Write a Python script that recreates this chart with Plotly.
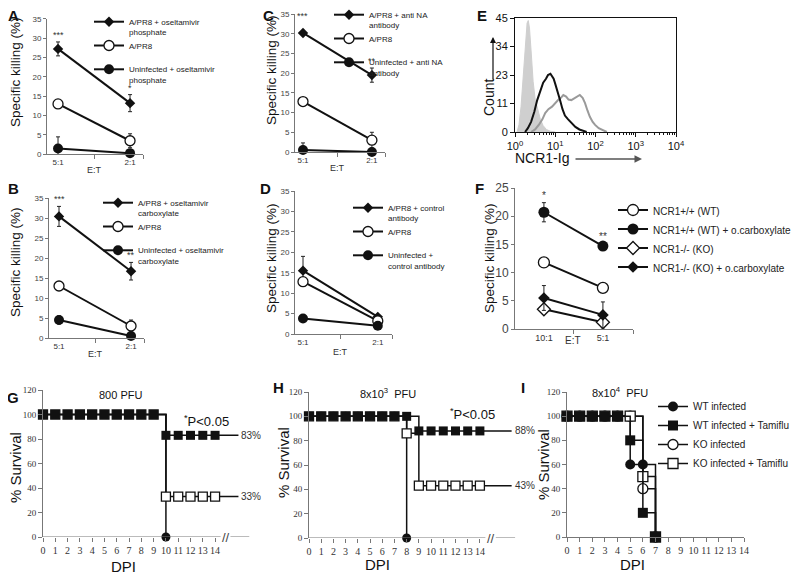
import math
import plotly.graph_objects as go

# page body keeps an 8px margin, so the figure is drawn 8px in from the window edge
OFF = 8
W, H = 800 - OFF, 575 - OFF

# ---------------- killing assays (A-D) ----------------
ET = ["5:1", "2:1"]

A_NAMES = ["A/PR8 + oseltamivir<br>phosphate", "A/PR8<br> ", "Uninfected + oseltamivir<br>phosphate"]
A_VALS = [[27.2, 13.2], [13.0, 3.5], [1.5, 0.3]]
A_ERR = [[1.8, 2.2], [0.8, 1.8], [3.0, 0.3]]
A_STARS = ["***", "*"]

B_NAMES = ["A/PR8 + oseltamivir<br>carboxylate", "A/PR8<br> ", "Uninfected + oseltamivir<br>carboxylate"]
B_VALS = [[30.4, 16.7], [13.0, 3.0], [4.5, 0.5]]
B_ERR = [[2.5, 2.2], [0.6, 1.5], [1.0, 0.3]]
B_STARS = ["***", "**"]

C_NAMES = ["A/PR8 + anti NA<br>antibody", "A/PR8<br> ", "Uninfected + anti NA<br>antibody"]
C_VALS = [[30.2, 19.5], [12.8, 3.0], [0.5, 0.0]]
C_ERR = [[0.5, 1.8], [1.0, 2.0], [1.8, 0.2]]
C_STARS = ["***", "**"]

D_NAMES = ["A/PR8 + control<br>antibody", "A/PR8<br> ", "Uninfected +<br>control antibody"]
D_VALS = [[15.5, 4.2], [12.8, 3.2], [3.8, 2.0]]
D_ERR = [[3.5, 0.5], [1.0, 0.8], [0.5, 0.3]]
D_STARS = ["", ""]

# ---------------- NCR1-Ig histogram (E), x in log10 units ----------------
E_FILL_X = [0.05, 0.1, 0.15, 0.2, 0.25, 0.3, 0.33, 0.36, 0.4, 0.45, 0.5, 0.57, 0.63, 0.7, 0.78, 0.88, 1.0]
E_FILL_Y = [0, 3, 10, 22, 35, 43, 44, 41, 32, 20, 13, 8, 5, 2.5, 1, 0.3, 0]
E_BLACK_X = [0.25, 0.32, 0.4, 0.48, 0.55, 0.62, 0.7, 0.77, 0.82, 0.88, 0.92, 0.96, 1.0, 1.06,
             1.12, 1.18, 1.24, 1.32, 1.41, 1.5, 1.6, 1.7, 1.78]
E_BLACK_Y = [0, 1.5, 4, 8, 12.5, 16, 19.5, 21, 22.5, 23, 22, 21, 19, 16, 12.5, 9, 6.5, 5, 3.5, 2, 1, 0.5, 0]
E_GRAY_X = [0.4, 0.5, 0.6, 0.68, 0.75, 0.83, 0.92, 1.0, 1.07, 1.14, 1.2, 1.27, 1.33, 1.4, 1.49,
            1.55, 1.61, 1.68, 1.74, 1.8, 1.86, 1.93, 1.99, 2.08, 2.16, 2.28]
E_GRAY_Y = [0, 1, 3, 5, 7.5, 9, 10, 11.5, 12.6, 13.5, 14.6, 14, 12.8, 12.6, 13.4, 14, 14.6, 13.5,
            11.4, 8.5, 6, 4, 2.8, 1.5, 0.8, 0]
E_YTICKS = ["0", "11", "23", "34", "45"]

# ---------------- NCR1 WT / KO killing (F) ----------------
F_ET = ["10:1", "5:1"]
F_NAMES = ["NCR1+/+ (WT)", "NCR1+/+ (WT) + o.carboxylate", "NCR1-/- (KO)", "NCR1-/- (KO) + o.carboxylate"]
F_VALS = [[11.8, 7.3], [20.7, 14.7], [3.5, 1.2], [5.5, 2.5]]
F_ERR = [[0.7, 0.6], [1.7, 0.3], [0.5, 0.5], [2.2, 2.3]]
F_STARS = ["*", "**"]

# ---------------- survival (G-I) ----------------
G_DAYS = [0, 1, 2, 3, 4, 5, 6, 7, 8, 9, 10, 11, 12, 13, 14]
G_WT_INF = [100, 100, 100, 100, 100, 100, 100, 100, 100, 100, 0]
G_WT_TAM = [100, 100, 100, 100, 100, 100, 100, 100, 100, 100, 83, 83, 83, 83, 83]
G_KO_TAM = [100, 100, 100, 100, 100, 100, 100, 100, 100, 100, 33, 33, 33, 33, 33]

H_DAYS = [0, 1, 2, 3, 4, 5, 6, 7, 8, 9, 10, 11, 12, 13, 14]
H_WT_INF = [100, 100, 100, 100, 100, 100, 100, 100, 0]
H_WT_TAM = [100, 100, 100, 100, 100, 100, 100, 100, 100, 88, 88, 88, 88, 88, 88]
H_KO_TAM = [100, 100, 100, 100, 100, 100, 100, 100, 86, 43, 43, 43, 43, 43, 43]

I_DAYS = [0, 1, 2, 3, 4, 5, 6, 7]
I_WT_INF = [100, 100, 100, 100, 100, 60, 60, 0]
I_WT_TAM = [100, 100, 100, 100, 100, 80, 20, 0]
I_KO_INF = [100, 100, 100, 100, 100, 100, 40, 0]
I_KO_TAM = [100, 100, 100, 100, 100, 100, 50, 0]
SURV_NAMES = ["WT infected", "WT infected + Tamiflu", "KO infected", "KO infected + Tamiflu"]

INK = "#111111"
AXC = "#777777"
SANS = "Liberation Sans, Arial, sans-serif"
SERIF = "Liberation Serif, Times New Roman, serif"

fig = go.Figure()
layout = dict(width=W, height=H, margin=dict(l=0, r=0, t=0, b=0, autoexpand=False),
              paper_bgcolor="white", plot_bgcolor="white",
              font=dict(family=SANS, color=INK), showlegend=True)
annotations = []
shapes = []


def ids(k):
    return ("x", "y") if k == 1 else (f"x{k}", f"y{k}")


def keys(k):
    return ("xaxis", "yaxis") if k == 1 else (f"xaxis{k}", f"yaxis{k}")


# screen pixel -> paper fraction
def fx(p):
    return (p - OFF) / W


def fy(p):
    return 1 - (p - OFF) / H


def dx(a, b):
    return [fx(a), fx(b)]


def dy(top, bottom):
    return [fy(bottom), fy(top)]


def label(x, y, text, size, angle=0, bold=False, family=SANS, color=INK):
    t = f"<b>{text}</b>" if bold else text
    annotations.append(dict(x=fx(x), y=fy(y), xref="paper", yref="paper", text=t,
                            showarrow=False, textangle=angle, xanchor="center", yanchor="middle",
                            font=dict(size=size, family=family, color=color)))


def legend_at(name, left, top, size, valign="top"):
    layout[name] = dict(x=fx(left), y=fy(top), xanchor="left", yanchor="top",
                        font=dict(size=size, color="#222"), bgcolor="rgba(0,0,0,0)",
                        valign=valign, tracegroupgap=0)


def mk(symbol, s, filled):
    return dict(symbol=symbol, size=s, opacity=1, color=INK if filled else "white",
                line=dict(color=INK, width=0 if filled else 1.3))


KILL_STYLE = [mk("diamond", 8, True), mk("circle", 10, False), mk("circle", 10, True)]
F_STYLE = [mk("circle", 11, False), mk("circle", 11, True), mk("diamond", 10, False), mk("diamond", 9, True)]


def kill_panel(k, box, labels, names, vals, errs, stars, styles, legend_id, leg_xy, leg_font,
               ymax=35, ytick_size=8, xtick_size=8, star_row=0, star_lift=(0, 0), et_y=None):
    x0, x1, ytop, ybot, r0, r1 = box
    xa, ya = ids(k)
    xk, yk = keys(k)
    pos = list(range(len(labels)))
    for name, v, e, st in zip(names, vals, errs, styles):
        fig.add_trace(go.Scatter(x=pos, y=v, name=name, mode="lines+markers", xaxis=xa, yaxis=ya,
                                 legend=legend_id, line=dict(color=INK, width=2), marker=st,
                                 error_y=dict(type="data", array=e, color="#222", thickness=1, width=2),
                                 cliponaxis=False))
    for j, s in enumerate(stars):
        if s:
            annotations.append(dict(x=pos[j], y=vals[star_row][j] + errs[star_row][j], xref=xa, yref=ya,
                                    text=s, showarrow=False, xanchor="center", yanchor="bottom",
                                    yshift=star_lift[j], font=dict(size=xtick_size + 1, color="#333")))
    layout[xk] = dict(domain=dx(x0, x1), range=[r0, r1], anchor=ya, tickmode="array",
                      tickvals=pos, ticktext=labels, ticks="", showline=True, linecolor=AXC,
                      showgrid=False, zeroline=False, tickfont=dict(size=xtick_size, color="#333"),
                      minor=dict(tickmode="array", tickvals=[0.5, r1], ticks="outside",
                                 ticklen=4, tickcolor=AXC))
    layout[yk] = dict(domain=dy(ytop, ybot), range=[0, ymax], anchor=xa, dtick=5, ticks="outside",
                      ticklen=3, tickcolor=AXC, showline=True, linecolor=AXC, showgrid=False,
                      zeroline=False, tickfont=dict(size=ytick_size, color="#444"))
    annotations.append(dict(x=0.5, y=fy(et_y), xref=xa, yref="paper", text="E:T", showarrow=False,
                            xanchor="center", yanchor="middle",
                            font=dict(size=xtick_size + 1, color="#333")))
    legend_at(legend_id, leg_xy[0], leg_xy[1], leg_font)


kill_panel(1, (47, 143, 18.7, 154.3, -0.153, 1.18), ET, A_NAMES, A_VALS, A_ERR, A_STARS,
           KILL_STYLE, "legend", (89, 10), 8, et_y=170)
kill_panel(2, (49, 144, 198, 338, -0.139, 1.18), ET, B_NAMES, B_VALS, B_ERR, B_STARS,
           KILL_STYLE, "legend2", (98, 191), 8, et_y=354)
kill_panel(3, (295, 385, 14, 152, -0.116, 1.19), ET, C_NAMES, C_VALS, C_ERR, C_STARS,
           KILL_STYLE, "legend3", (329, 3), 8, star_lift=(8, 0), et_y=168)
kill_panel(4, (295, 392, 191, 334, -0.107, 1.19), ET, D_NAMES, D_VALS, D_ERR, D_STARS,
           KILL_STYLE, "legend4", (348, 196), 8, et_y=352)
kill_panel(6, (515, 633, 188, 329, -0.49, 1.51), F_ET, F_NAMES, F_VALS, F_ERR, F_STARS,
           F_STYLE, "legend5", (613, 197), 10, ymax=25, ytick_size=12, xtick_size=9, star_row=1,
           et_y=340)

# ---------------- panel E ----------------
fig.add_trace(go.Scatter(x=E_FILL_X, y=E_FILL_Y, mode="lines", fill="tozeroy", fillcolor="#cfcfcf",
                         line=dict(color="#cfcfcf", width=1), xaxis="x5", yaxis="y5", showlegend=False))
fig.add_trace(go.Scatter(x=E_GRAY_X, y=E_GRAY_Y, mode="lines", line=dict(color="#9a9a9a", width=2),
                         xaxis="x5", yaxis="y5", showlegend=False))
fig.add_trace(go.Scatter(x=E_BLACK_X, y=E_BLACK_Y, mode="lines", line=dict(color=INK, width=2),
                         xaxis="x5", yaxis="y5", showlegend=False))
e_minor = [d + math.log10(m) for d in range(4) for m in range(2, 10)]
layout["xaxis5"] = dict(domain=dx(515, 676), range=[0, 4], anchor="y5", tickmode="array",
                        tickvals=[0, 1, 2, 3, 4],
                        ticktext=[f"10<sup>{p}</sup>" for p in range(5)],
                        ticks="outside", ticklen=4, tickcolor=INK, showline=True, mirror=True,
                        linecolor=INK, showgrid=False, zeroline=False, tickfont=dict(size=11),
                        minor=dict(tickmode="array", tickvals=e_minor, ticks="outside", ticklen=2,
                                   tickcolor=INK))
layout["yaxis5"] = dict(domain=dy(18, 132), range=[0, 45], anchor="x5", tickmode="array",
                        tickvals=[0, 11.25, 22.5, 33.75, 45], ticktext=E_YTICKS, ticks="outside",
                        ticklen=4, tickcolor=INK, showline=True, mirror=True, linecolor=INK,
                        showgrid=False, zeroline=False, tickfont=dict(size=11))
label(542, 158, "NCR1-Ig", 14)
annotations.append(dict(x=fx(642), y=fy(159), xref="paper", yref="paper", ax=-68, ay=0, text="",
                        showarrow=True, arrowhead=2, arrowsize=1, arrowwidth=1.5, arrowcolor="#555"))
label(489, 98, "Count", 14, angle=-90)
annotations.append(dict(x=fx(493), y=fy(37), xref="paper", yref="paper", ax=0, ay=44, text="",
                        showarrow=True, arrowhead=2, arrowsize=1, arrowwidth=1.2, arrowcolor=INK))


# ---------------- survival panels ----------------
def surv_axes(k, x0, x1, ytop, ybot, xmax, axis_line=True):
    xa, ya = ids(k)
    xk, yk = keys(k)
    layout[xk] = dict(domain=dx(x0, x1), range=[0, xmax], anchor=ya, tickmode="array",
                      tickvals=G_DAYS, ticks="outside", ticklen=4, tickcolor=AXC,
                      showline=axis_line, linecolor=AXC, showgrid=False, zeroline=False,
                      tickfont=dict(size=10, family=SERIF, color="#333"))
    layout[yk] = dict(domain=dy(ytop, ybot), range=[0, 120], anchor=xa, dtick=20, ticks="outside",
                      ticklen=4, tickcolor=AXC, showline=True, linecolor=AXC, showgrid=False,
                      zeroline=False, tickfont=dict(size=9, family=SERIF, color="#333"))


def surv_trace(k, days, vals, marker, name, legend_id=None, tail=None, rank=1000):
    xa, ya = ids(k)
    x = days[:len(vals)]
    y = list(vals)
    sizes = [marker["size"]] * len(y)
    if tail is not None:
        x = x + [tail]
        y = y + [vals[-1]]
        sizes = sizes + [0]
    m = dict(marker)
    m["size"] = sizes
    fig.add_trace(go.Scatter(x=x, y=y, mode="lines+markers", line=dict(color=INK, width=1.5, shape="hv"),
                             marker=m, name=name, xaxis=xa, yaxis=ya, cliponaxis=False,
                             showlegend=legend_id is not None, legend=legend_id or "legend",
                             legendrank=rank))


def axis_break(k, xmax, b0, b1):
    xa, ya = ids(k)
    shapes.append(dict(type="line", xref=xa, yref=ya, x0=0, x1=b0, y0=0, y1=0, line=dict(color=AXC, width=1)))
    shapes.append(dict(type="line", xref=xa, yref=ya, x0=b1, x1=xmax, y0=0, y1=0, line=dict(color=AXC, width=1)))
    annotations.append(dict(x=(b0 + b1) / 2, y=0, xref=xa, yref=ya, text="//", showarrow=False,
                            xanchor="center", yanchor="middle", font=dict(size=13, color="#444")))


def pct(k, x, v):
    xa, ya = ids(k)
    annotations.append(dict(x=x, y=v, xref=xa, yref=ya, text=f"{v}%", showarrow=False, xanchor="left",
                            yanchor="middle", xshift=1, font=dict(size=10, color="#333")))


# G
G_TAIL = 15.9
surv_axes(7, 43, 249.5, 390, 537, 16.8, axis_line=False)
axis_break(7, 16.8, 14.45, 15.25)
surv_trace(7, G_DAYS, G_WT_INF, mk("circle", 9, True), SURV_NAMES[0])
surv_trace(7, G_DAYS, G_KO_TAM, mk("square", 9, False), SURV_NAMES[3], tail=G_TAIL)
surv_trace(7, G_DAYS, G_WT_TAM, mk("square", 9, True), SURV_NAMES[1], tail=G_TAIL)
pct(7, G_TAIL, G_WT_TAM[-1])
pct(7, G_TAIL, G_KO_TAM[-1])
label(120, 395, "800 PFU", 11)
label(207, 421, "<sup>*</sup>P&lt;0.05", 13)

# H
H_TAIL = 16.6
surv_axes(8, 309, 515.3, 392, 538, 16.9, axis_line=False)
axis_break(8, 16.9, 14.45, 15.3)
surv_trace(8, H_DAYS, H_WT_INF, mk("circle", 9, True), SURV_NAMES[0])
surv_trace(8, H_DAYS, H_KO_TAM, mk("square", 9, False), SURV_NAMES[3], tail=H_TAIL)
surv_trace(8, H_DAYS, H_WT_TAM, mk("square", 9, True), SURV_NAMES[1], tail=H_TAIL)
pct(8, H_TAIL, H_WT_TAM[-1])
pct(8, H_TAIL, H_KO_TAM[-1])
label(388, 393, "8x10<sup>3</sup>  PFU", 11)
label(472, 414, "<sup>*</sup>P&lt;0.05", 13)

# I
surv_axes(9, 567, 744, 392, 537, 14)
surv_trace(9, I_DAYS, I_WT_INF, mk("circle", 10, True), SURV_NAMES[0], legend_id="legend6", rank=1)
surv_trace(9, I_DAYS, I_KO_INF, mk("circle", 10, False), SURV_NAMES[2], legend_id="legend6", rank=3)
surv_trace(9, I_DAYS, I_KO_TAM, mk("square", 10, False), SURV_NAMES[3], legend_id="legend6", rank=4)
surv_trace(9, I_DAYS, I_WT_TAM, mk("square", 10, True), SURV_NAMES[1], legend_id="legend6", rank=2)
legend_at("legend6", 653, 392, 10, valign="middle")
label(620, 392, "8x10<sup>4</sup>  PFU", 11)

# axis titles
for (x, y) in [(15, 72), (15, 262), (271, 70), (271, 258), (489, 258)]:
    label(x, y, "Specific killing (%)", 13.5, angle=-90)
for (x, y) in [(15, 468), (283, 463), (543, 465)]:
    label(x, y, "% Survival", 15, angle=-90)
for (x, y) in [(123, 566), (377, 564), (632, 564)]:
    label(x, y, "DPI", 15)

# panel letters
for (x, y, t) in [(13, 15, "A"), (13, 188, "B"), (268, 15, "C"), (265, 188, "D"), (482, 15, "E"),
                  (479, 188, "F"), (13, 397, "G"), (278, 387, "H"), (523, 387, "I")]:
    label(x, y, t, 15, bold=True)

layout["annotations"] = annotations
layout["shapes"] = shapes
fig.update_layout(**layout)
fig.write_html("out.html")
